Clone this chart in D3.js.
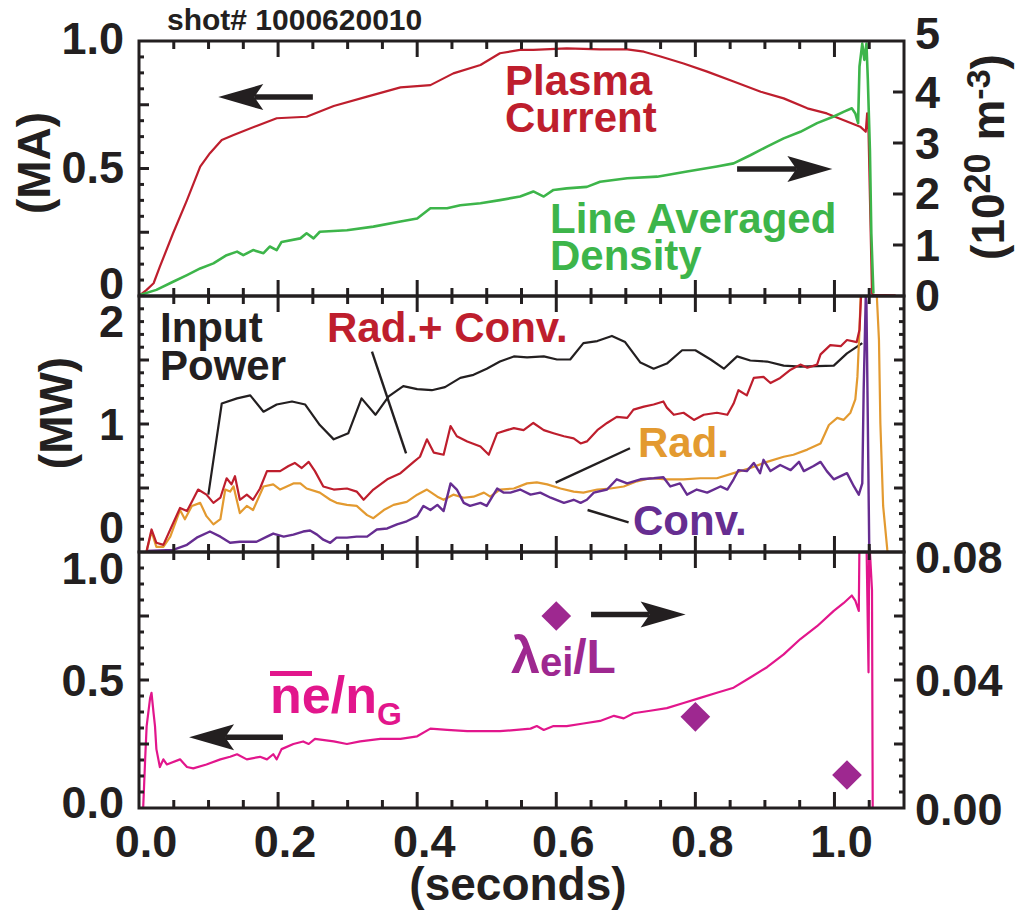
<!DOCTYPE html>
<html><head><meta charset="utf-8">
<script src="https://cdn.jsdelivr.net/npm/d3@7"></script>
<style>
body{margin:0;background:#fff}
svg{display:block}
text{font-family:"Liberation Sans",Arial,Helvetica,sans-serif;font-weight:bold}
</style>
</head><body>
<svg id="c" width="1016" height="915"></svg>
<script>
// ---------------- DATA ----------------
const shotLabel = "shot# 1000620010";
// time (s), plasma current (MA)
const plasmaCurrent = [[0,0],[0.011,0.024],[0.021,0.05],[0.030,0.115],[0.049,0.246],[0.069,0.376],[0.088,0.507],[0.102,0.56],[0.119,0.612],[0.136,0.631],[0.169,0.667],[0.198,0.697],[0.241,0.703],[0.280,0.745],[0.328,0.782],[0.376,0.818],[0.419,0.827],[0.452,0.873],[0.491,0.906],[0.519,0.952],[0.548,0.965],[0.567,0.965],[0.615,0.971],[0.663,0.967],[0.702,0.967],[0.726,0.958],[0.750,0.939],[0.783,0.912],[0.817,0.880],[0.855,0.841],[0.894,0.801],[0.927,0.775],[0.961,0.736],[0.989,0.716],[1.018,0.684],[1.037,0.664],[1.045,0.644],[1.047,0.716],[1.049,0.64],[1.054,0.01],[1.056,0.005],[1.088,0.003]];
// time (s), line averaged density (1e20 m^-3)
const lineDensity = [[0.001,0.02],[0.025,0.12],[0.049,0.28],[0.069,0.41],[0.088,0.54],[0.107,0.64],[0.126,0.80],[0.141,0.87],[0.150,0.80],[0.164,0.90],[0.179,0.84],[0.188,0.97],[0.198,0.90],[0.205,1.06],[0.232,1.13],[0.241,1.23],[0.251,1.13],[0.260,1.26],[0.299,1.29],[0.337,1.36],[0.376,1.46],[0.400,1.52],[0.419,1.72],[0.443,1.72],[0.462,1.78],[0.491,1.82],[0.519,1.88],[0.548,1.95],[0.567,2.05],[0.582,1.95],[0.596,2.08],[0.615,2.11],[0.644,2.14],[0.663,2.24],[0.702,2.31],[0.745,2.34],[0.788,2.44],[0.831,2.54],[0.855,2.60],[0.879,2.76],[0.903,2.93],[0.927,3.09],[0.951,3.22],[0.975,3.39],[0.999,3.52],[1.013,3.61],[1.025,3.68],[1.030,3.58],[1.034,3.39],[1.036,4.5],[1.040,4.95],[1.043,4.63],[1.046,4.95],[1.048,4.24],[1.051,2.86],[1.053,1.23],[1.056,0.05]];
// time (s), input power (MW)
const inputPower = [[0.0997,0.31],[0.119,1.20],[0.141,1.25],[0.160,1.28],[0.179,1.12],[0.198,1.19],[0.220,1.22],[0.239,1.19],[0.260,0.99],[0.280,0.85],[0.301,0.91],[0.320,1.25],[0.340,1.09],[0.359,1.27],[0.380,1.37],[0.400,1.34],[0.421,1.33],[0.440,1.36],[0.462,1.45],[0.481,1.48],[0.500,1.54],[0.519,1.61],[0.539,1.66],[0.558,1.65],[0.582,1.66],[0.601,1.63],[0.620,1.63],[0.639,1.79],[0.659,1.81],[0.680,1.86],[0.699,1.80],[0.721,1.60],[0.740,1.54],[0.759,1.59],[0.781,1.72],[0.800,1.72],[0.822,1.63],[0.841,1.54],[0.860,1.66],[0.879,1.62],[0.903,1.61],[0.927,1.57],[0.951,1.56],[0.999,1.57],[1.018,1.69],[1.040,1.79]];
// time (s), radiated + convected power (MW)
const radConv = [[0.011,-0.24],[0.018,-0.03],[0.025,-0.16],[0.035,-0.18],[0.045,-0.03],[0.059,0.18],[0.069,0.15],[0.076,0.24],[0.085,0.36],[0.097,0.31],[0.107,0.23],[0.117,0.28],[0.126,0.47],[0.133,0.41],[0.138,0.49],[0.145,0.26],[0.155,0.31],[0.164,0.26],[0.174,0.37],[0.184,0.54],[0.203,0.54],[0.215,0.59],[0.224,0.62],[0.234,0.57],[0.244,0.63],[0.253,0.54],[0.265,0.39],[0.280,0.36],[0.299,0.37],[0.313,0.34],[0.323,0.26],[0.337,0.36],[0.357,0.46],[0.376,0.52],[0.395,0.63],[0.404,0.68],[0.414,0.85],[0.424,0.72],[0.438,0.70],[0.448,0.98],[0.457,0.88],[0.472,0.83],[0.491,0.78],[0.503,0.70],[0.515,0.91],[0.529,0.94],[0.539,0.96],[0.553,0.94],[0.567,1.01],[0.582,0.94],[0.596,0.91],[0.611,0.88],[0.625,0.86],[0.635,0.81],[0.644,0.83],[0.659,0.94],[0.673,1.01],[0.687,1.07],[0.702,1.06],[0.711,1.14],[0.726,1.17],[0.740,1.19],[0.754,1.22],[0.759,1.16],[0.769,1.09],[0.783,1.11],[0.798,1.04],[0.812,1.09],[0.831,1.11],[0.846,1.09],[0.855,1.20],[0.862,1.33],[0.874,1.28],[0.884,1.45],[0.898,1.46],[0.908,1.40],[0.922,1.45],[0.937,1.53],[0.951,1.58],[0.961,1.55],[0.975,1.58],[0.980,1.68],[0.994,1.77],[1.009,1.76],[1.018,1.82],[1.032,1.80],[1.036,1.92],[1.038,2.21],[1.041,2.6]];
// time (s), radiated power (MW)
const radiated = [[0.011,-0.24],[0.018,-0.05],[0.025,-0.20],[0.035,-0.20],[0.045,-0.10],[0.059,0.16],[0.066,0.07],[0.076,0.20],[0.088,0.23],[0.097,0.10],[0.107,0.02],[0.117,0.07],[0.124,0.36],[0.131,0.34],[0.136,0.39],[0.145,0.13],[0.155,0.20],[0.164,0.16],[0.179,0.39],[0.193,0.41],[0.203,0.36],[0.222,0.42],[0.232,0.42],[0.241,0.37],[0.260,0.33],[0.275,0.26],[0.284,0.23],[0.299,0.21],[0.313,0.20],[0.328,0.11],[0.337,0.08],[0.352,0.16],[0.366,0.21],[0.385,0.24],[0.400,0.31],[0.414,0.36],[0.429,0.29],[0.438,0.26],[0.452,0.31],[0.467,0.28],[0.481,0.29],[0.496,0.33],[0.505,0.29],[0.519,0.36],[0.539,0.37],[0.558,0.42],[0.572,0.43],[0.587,0.41],[0.606,0.37],[0.625,0.34],[0.639,0.33],[0.659,0.36],[0.678,0.37],[0.697,0.39],[0.716,0.44],[0.735,0.47],[0.759,0.46],[0.783,0.46],[0.807,0.47],[0.831,0.47],[0.855,0.52],[0.879,0.57],[0.903,0.63],[0.927,0.68],[0.941,0.70],[0.961,0.75],[0.980,0.81],[0.992,0.99],[1.004,1.06],[1.013,1.04],[1.023,1.11],[1.030,1.24],[1.033,1.46],[1.036,1.92],[1.038,2.31],[1.045,3.0],[1.058,3.0],[1.061,2.24],[1.064,1.82],[1.066,1.01],[1.070,0.20],[1.076,-0.23],[1.078,-0.3]];
// time (s), convected power (MW)
const convected = [[0.011,-0.24],[0.049,-0.23],[0.069,-0.18],[0.083,-0.11],[0.102,-0.05],[0.117,-0.10],[0.131,-0.16],[0.145,-0.15],[0.169,-0.15],[0.184,-0.10],[0.193,-0.07],[0.208,-0.10],[0.222,-0.08],[0.236,-0.05],[0.246,-0.04],[0.256,-0.08],[0.265,-0.13],[0.275,-0.16],[0.284,-0.11],[0.299,-0.11],[0.313,-0.10],[0.328,-0.10],[0.342,-0.03],[0.357,-0.02],[0.371,0.02],[0.385,0.05],[0.400,0.10],[0.409,0.20],[0.419,0.16],[0.429,0.21],[0.438,0.15],[0.448,0.42],[0.457,0.36],[0.467,0.23],[0.476,0.20],[0.491,0.23],[0.500,0.20],[0.515,0.37],[0.524,0.33],[0.534,0.33],[0.548,0.36],[0.563,0.31],[0.577,0.33],[0.592,0.28],[0.611,0.23],[0.625,0.26],[0.635,0.23],[0.644,0.26],[0.654,0.33],[0.673,0.36],[0.687,0.46],[0.702,0.42],[0.721,0.46],[0.740,0.47],[0.754,0.48],[0.764,0.39],[0.778,0.42],[0.788,0.31],[0.802,0.36],[0.817,0.33],[0.836,0.39],[0.846,0.36],[0.855,0.46],[0.862,0.55],[0.874,0.54],[0.884,0.62],[0.893,0.52],[0.898,0.65],[0.908,0.54],[0.922,0.60],[0.937,0.55],[0.949,0.63],[0.956,0.54],[0.970,0.59],[0.980,0.63],[0.989,0.54],[0.999,0.46],[1.018,0.52],[1.028,0.39],[1.035,0.31],[1.040,0.42],[1.042,1.33],[1.045,2.24],[1.046,2.18],[1.048,1.01],[1.050,-0.2],[1.052,-0.3]];
// time (s), ne-bar / nG
const greenwaldFraction = [[0.006,0.0],[0.009,0.20],[0.011,0.32],[0.016,0.43],[0.018,0.45],[0.021,0.37],[0.023,0.32],[0.025,0.23],[0.030,0.16],[0.035,0.19],[0.040,0.17],[0.059,0.19],[0.069,0.16],[0.078,0.155],[0.097,0.17],[0.117,0.19],[0.131,0.20],[0.141,0.21],[0.155,0.19],[0.174,0.20],[0.184,0.19],[0.193,0.21],[0.198,0.19],[0.205,0.23],[0.222,0.25],[0.236,0.26],[0.244,0.25],[0.253,0.27],[0.280,0.26],[0.299,0.25],[0.318,0.26],[0.347,0.27],[0.376,0.27],[0.400,0.28],[0.419,0.31],[0.443,0.305],[0.472,0.30],[0.496,0.30],[0.519,0.30],[0.543,0.305],[0.563,0.31],[0.572,0.32],[0.582,0.305],[0.596,0.32],[0.615,0.32],[0.639,0.33],[0.663,0.34],[0.683,0.36],[0.697,0.35],[0.711,0.37],[0.735,0.38],[0.759,0.39],[0.783,0.41],[0.807,0.43],[0.831,0.45],[0.855,0.47],[0.879,0.51],[0.903,0.55],[0.927,0.60],[0.951,0.66],[0.975,0.71],[0.999,0.77],[1.013,0.80],[1.025,0.83],[1.030,0.81],[1.035,0.77],[1.036,1.05],[1.046,1.05],[1.049,0.53],[1.050,1.05],[1.054,0.85],[1.055,0.0]];
// lambda_ei / L measurements
const lambdaTimes = [0.6, 0.8, 1.018];
const lambdaValues = [0.060, 0.0285, 0.0103];
// axis tick labels
const xTickValues = [0, 0.2, 0.4, 0.6, 0.8, 1.0];
const xTickLabels = ["0.0", "0.2", "0.4", "0.6", "0.8", "1.0"];
const topLeftTicks = [1, 0.5, 0], topLeftLabels = ["1.0", "0.5", "0"];
const topRightTicks = [5, 4, 3, 2, 1, 0], topRightLabels = ["5", "4", "3", "2", "1", "0"];
const midLeftTicks = [2, 1, 0], midLeftLabels = ["2", "1", "0"];
const botLeftTicks = [1, 0.5, 0], botLeftLabels = ["1.0", "0.5", "0.0"];
const botRightTicks = [0.08, 0.04, 0], botRightLabels = ["0.08", "0.04", "0.00"];

// ---------------- DRAWING ----------------
const C = {red:"#be1e2d", green:"#3db54a", orange:"#e39a30", purple:"#662d91",
           pink:"#e2168c", violet:"#9e2890", black:"#231f20"};
const svg = d3.select("#c");
const X0 = 139, X1 = 904;
const P = {top:[41,296], mid:[296,552], bot:[552,808]};
const x = d3.scaleLinear().domain([0,1.1]).range([X0,X1]);
const yI = d3.scaleLinear().domain([0,1]).range([P.top[1],P.top[0]]);
const yN = d3.scaleLinear().domain([0,5]).range([P.top[1],P.top[0]]);
const yP = d3.scaleLinear().domain([-0.25,2.25]).range([P.mid[1],P.mid[0]]);
const yF = d3.scaleLinear().domain([0,1]).range([P.bot[1],P.bot[0]]);
const yL = d3.scaleLinear().domain([0,0.08]).range([P.bot[1],P.bot[0]]);

const defs = svg.append("defs");
Object.entries(P).forEach(([k,[a,b]]) => {
  defs.append("clipPath").attr("id","clip-"+k).append("rect")
    .attr("x",X0).attr("y",a).attr("width",X1-X0).attr("height",b-a);
});

function drawLine(panel, data, ys, color, w) {
  svg.append("path").datum(data)
    .attr("clip-path","url(#clip-"+panel+")")
    .attr("fill","none").attr("stroke",color).attr("stroke-width",w||2.2)
    .attr("stroke-linejoin","round")
    .attr("d", d3.line().x(d=>x(d[0])).y(d=>ys(d[1])));
}

// top panel
drawLine("top", plasmaCurrent, yI, C.red);
drawLine("top", lineDensity, yN, C.green, 2.6);
// middle panel
drawLine("mid", inputPower, yP, C.black, 2.2);
drawLine("mid", radiated, yP, C.orange);
drawLine("mid", convected, yP, C.purple, 2.4);
drawLine("mid", radConv, yP, C.red);
// bottom panel
drawLine("bot", greenwaldFraction, yF, C.pink);
svg.append("g").selectAll("path").data(lambdaTimes).join("path")
  .attr("d", d3.symbol().type(d3.symbolSquare).size(440))
  .attr("transform",(d,i)=>`translate(${x(d)},${yL(lambdaValues[i])}) rotate(45)`)
  .attr("fill", C.violet);

// frames and ticks
const axisG = svg.append("g").attr("stroke",C.black).attr("stroke-width",3).attr("fill","none");
Object.values(P).forEach(([a,b]) => {
  axisG.append("rect").attr("x",X0).attr("y",a).attr("width",X1-X0).attr("height",b-a);
  d3.range(1,22).forEach(k => {
    const len = k%4===0 ? 16 : 8, xx = x(k*0.05);
    axisG.append("line").attr("x1",xx).attr("x2",xx).attr("y1",a).attr("y2",a+len);
    axisG.append("line").attr("x1",xx).attr("x2",xx).attr("y1",b).attr("y2",b-len);
  });
});
function yTicks(scale, n, majorEvery, side, majLen, minLen) {
  const [d0,d1] = scale.domain();
  d3.range(1,n).forEach(k => {
    const v = d0 + (d1-d0)*k/n, yy = scale(v);
    const len = (k % majorEvery === 0) ? majLen : minLen;
    const xa = side==="left" ? X0 : X1, dir = side==="left" ? 1 : -1;
    axisG.append("line").attr("x1",xa).attr("x2",xa+dir*len).attr("y1",yy).attr("y2",yy);
  });
}
yTicks(yI, 16, 4, "left", 10, 5);
yTicks(yN, 5, 1, "right", 11, 11);
yTicks(yP, 20, 5, "left", 10, 5);
yTicks(yP, 20, 5, "right", 10, 5);
yTicks(yF, 16, 4, "left", 10, 5);
yTicks(yL, 16, 4, "right", 10, 5);

// tick labels
const FS = 45, half = FS*0.358;
function yLabels(scale, vals, labs, side, shifts) {
  svg.append("g").selectAll("text").data(vals).join("text")
    .attr("x", side==="left" ? 124 : 915)
    .attr("y", (d,i) => scale(d) + half + (shifts[i]||0))
    .attr("text-anchor", side==="left" ? "end" : "start")
    .attr("font-size", FS).attr("fill", C.black)
    .text((d,i)=>labs[i]);
}
yLabels(yI, topLeftTicks, topLeftLabels, "left", [-3.5,-2,-13]);
yLabels(yN, topRightTicks, topRightLabels, "right", [-8.5,0,0,-1,0,-1]);
yLabels(yP, midLeftTicks, midLeftLabels, "left", [-1,0,0]);
yLabels(yF, botLeftTicks, botLeftLabels, "left", [16,0,-6]);
yLabels(yL, botRightTicks, botRightLabels, "right", [5,0,1]);
svg.append("g").selectAll("text").data(xTickValues).join("text")
  .attr("x", d => x(d)+7).attr("y", 857)
  .attr("text-anchor","middle").attr("font-size",FS).attr("fill",C.black)
  .text((d,i)=>xTickLabels[i]);

// axis titles
svg.append("text").attr("x",518).attr("y",900).attr("text-anchor","middle")
  .attr("font-size",46).attr("fill",C.black).text("(seconds)");
svg.append("text").attr("transform","translate(50,163) rotate(-90)").attr("text-anchor","middle")
  .attr("font-size",46).attr("fill",C.black).text("(MA)");
svg.append("text").attr("transform","translate(72,413) rotate(-90)").attr("text-anchor","middle")
  .attr("font-size",46).attr("fill",C.black).text("(MW)");
const rt = svg.append("text").attr("transform","translate(1004,157) rotate(-90)")
  .attr("text-anchor","middle").attr("font-size",46).attr("fill",C.black);
rt.append("tspan").text("(10");
rt.append("tspan").attr("font-size",36).attr("dy",-14).text("20");
rt.append("tspan").attr("dy",14).text(" m");
rt.append("tspan").attr("font-size",34).attr("dy",-14).text("-3");
rt.append("tspan").attr("dy",14).text(")");
svg.append("text").attr("x",167).attr("y",30).attr("font-size",30).attr("fill",C.black).text(shotLabel);

// series labels (multi-line labels kept as one text element)
function label(lines, xx, yy, color, lineGap) {
  const t = svg.append("text").attr("x",xx).attr("y",yy).attr("font-size",42).attr("fill",color);
  lines.forEach((s,i) => t.append("tspan").attr("x",xx).attr("dy", i===0 ? 0 : lineGap).text(s));
}
label(["Plasma","Current"], 505, 95, C.red, 37);
label(["Line Averaged","Density"], 550, 233, C.green, 37);
label(["Input","Power"], 160, 342, C.black, 38);
label(["Rad.+ Conv."], 327, 342, C.red);
label(["Rad."], 638, 457, C.orange);
label(["Conv."], 633, 535, C.purple);
const lt = svg.append("text").attr("x",511).attr("y",673).attr("fill",C.violet).attr("font-size",52);
lt.append("tspan").text("λ");
lt.append("tspan").attr("font-size",40).attr("dy",3).text("ei");
lt.append("tspan").attr("font-size",48).attr("dy",-3).text("/L");
const nt = svg.append("text").attr("x",270).attr("y",713).attr("fill",C.pink).attr("font-size",52);
nt.append("tspan").text("ne/n");
nt.append("tspan").attr("font-size",32).attr("dy",12).text("G");
svg.append("line").attr("x1",270).attr("x2",312).attr("y1",673.5).attr("y2",673.5)
  .attr("stroke",C.pink).attr("stroke-width",5);

// pointer lines (data coordinates)
function pointer(t1,v1,t2,v2) {
  svg.append("line").attr("x1",x(t1)).attr("y1",yP(v1)).attr("x2",x(t2)).attr("y2",yP(v2))
    .attr("stroke",C.black).attr("stroke-width",2.4);
}
pointer(0.335,1.706,0.384,0.714);
pointer(0.706,0.763,0.599,0.427);
pointer(0.645,0.160,0.704,0.040);

// arrows (data coordinates)
function arrow(tTail, tTip, yy) {
  const xt = x(tTail), xh = x(tTip), dir = xh > xt ? 1 : -1;
  const headLen = 45, hw = 13, notch = 36;
  svg.append("line").attr("x1",xt).attr("y1",yy).attr("x2",xh-dir*notch).attr("y2",yy)
    .attr("stroke",C.black).attr("stroke-width",5.5);
  svg.append("path").attr("fill",C.black)
    .attr("d",`M${xh},${yy} L${xh-dir*headLen},${yy-hw} L${xh-dir*notch},${yy} L${xh-dir*headLen},${yy+hw} Z`);
}
arrow(0.250, 0.114, yI(0.78));
arrow(0.860, 0.997, yN(2.49));
arrow(0.207, 0.072, yF(0.276));
arrow(0.650, 0.786, yL(0.0605));
</script>
</body></html>
